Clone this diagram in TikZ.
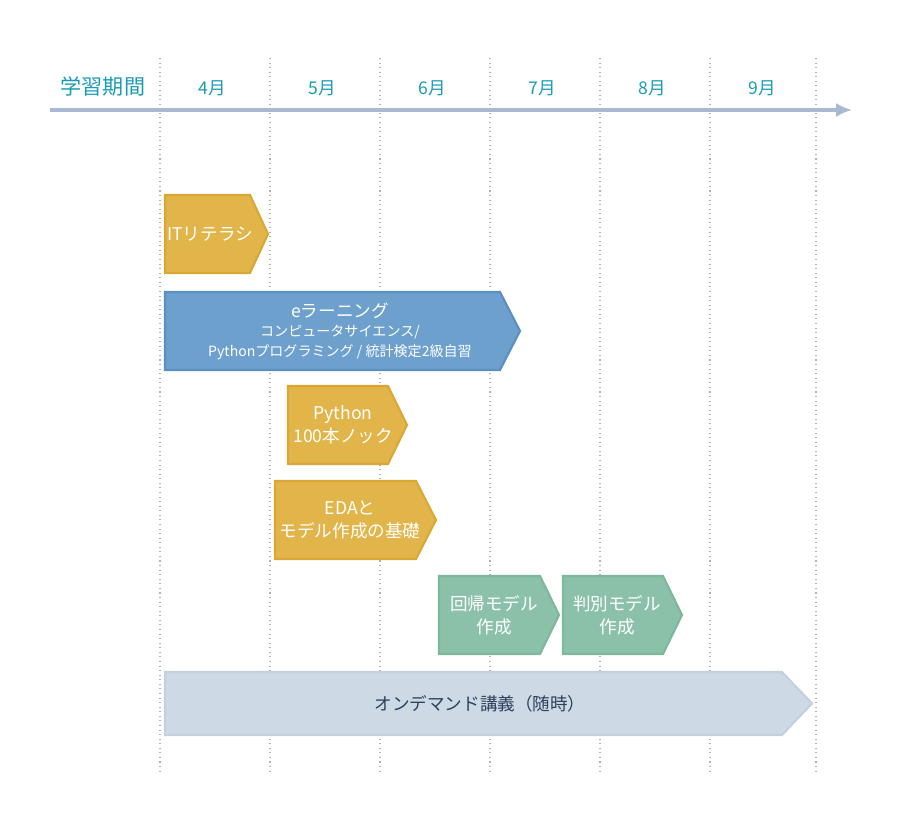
\documentclass[tikz,border=0pt]{standalone}
\usepackage{fontspec}
\setmainfont{Noto Sans CJK JP}
\usetikzlibrary{positioning,arrows.meta}
\definecolor{teal}{HTML}{1A9BB5}
\definecolor{axisc}{HTML}{A9B9D1}
\definecolor{yel}{HTML}{E2B54A}
\definecolor{yelb}{HTML}{DBA734}
\definecolor{blu}{HTML}{6DA0CC}
\definecolor{blub}{HTML}{5A8FC2}
\definecolor{grn}{HTML}{8CC1A9}
\definecolor{grnb}{HTML}{7DB89C}
\definecolor{gry}{HTML}{CDD9E4}
\definecolor{gryb}{HTML}{C3D0DD}
\definecolor{navy}{HTML}{2E3E5C}
\tikzset{
  yelstage/.style={fill=yel,draw=yelb,line width=1.2pt},
  blustage/.style={fill=blu,draw=blub,line width=1.2pt},
  grnstage/.style={fill=grn,draw=grnb,line width=1.2pt},
  grystage/.style={fill=gry,draw=gryb,line width=1.2pt},
  label/.style={text=white,font=\fontsize{10}{13}\selectfont,align=center},
  month/.style={text=teal,font=\fontsize{10}{12}\selectfont}
}
% x1, x2, tip, top, bottom, style
\newcommand{\stage}[6]{\path[#6] (#1,#4) -- (#2,#4) -- (#3,{(#4+#5)/2}) -- (#2,#5) -- (#1,#5) -- cycle;}
\begin{document}
\begin{tikzpicture}[x=0.02cm,y=-0.02cm]
\useasboundingbox (0,0) rectangle (900,830);

% month grid
\foreach \gx in {160,270,380,490,600,710,816}
  \draw[gray!60,dotted,line width=0.6pt] (\gx,58) -- (\gx,775);
\coordinate (axstart) at (50,110);
\coordinate (axend) at (852,110);
\draw[axisc,line width=2.5pt,-{Latex[length=9pt,width=8pt]}] (axstart) -- (axend);
\node[month,font=\fontsize{12}{14}\selectfont] (period) at (103,86) {学習期間};
\foreach \m [count=\i] in {4,5,6,7,8,9}
  \node[month] (m\m) at ({212+110*(\i-1)},88) {\m 月};

% stages
\stage{165}{250}{268}{195}{273}{yelstage}
\node[label] (it) at (210,234) {ITリテラシ};
\stage{165}{500}{520}{292}{370}{blustage}
\node[label] (elearn) at (340,331) {eラーニング\\[-2pt]
  {\fontsize{8}{11}\selectfont コンピュータサイエンス/}\\[-2pt]
  {\fontsize{8}{11}\selectfont Pythonプログラミング / 統計検定2級自習}};
\stage{288}{388}{407}{386}{464}{yelstage}
\node[label] (py) at (343,425) {Python\\100本ノック};
\stage{275}{416}{436}{481}{559}{yelstage}
\node[label] (eda) at (350,520) {EDAと\\モデル作成の基礎};
\stage{439}{540}{559}{576}{654}{grnstage}
\node[label] (reg) at (494,615) {回帰モデル\\作成};
\stage{563}{663}{682}{576}{654}{grnstage}
\node[label] (cls) at (617,615) {判別モデル\\作成};
\stage{165}{782}{812}{672}{735}{grystage}
\node[label,text=navy] (ondemand) at (480,704) {オンデマンド講義（随時）};
\end{tikzpicture}
\end{document}
